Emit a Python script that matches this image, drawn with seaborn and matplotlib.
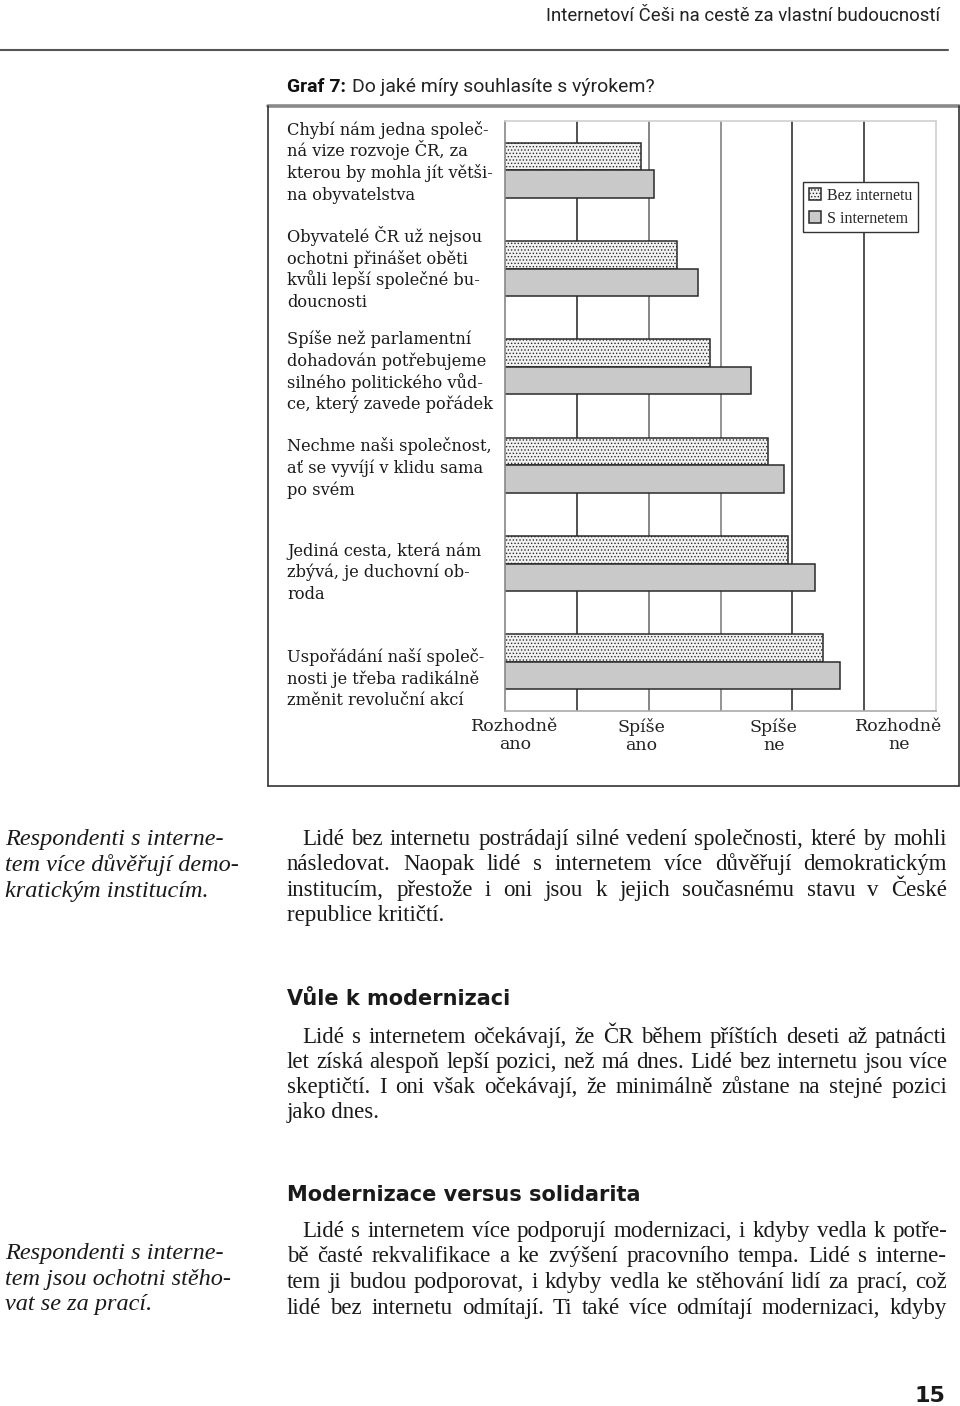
import numpy as np
import pandas as pd
import matplotlib
matplotlib.use("Agg")
import matplotlib.pyplot as plt
import seaborn as sns
from matplotlib.lines import Line2D
from matplotlib import font_manager as fm
from matplotlib.transforms import blended_transform_factory, offset_copy

# ---------------- data ----------------
statements = [
    "Chybí nám jedna společ-\nná vize rozvoje ČR, za\nkterou by mohla jít větši-\nna obyvatelstva",
    "Obyvatelé ČR už nejsou\nochotni přinášet oběti\nkvůli lepší společné bu-\ndoucnosti",
    "Spíše než parlamentní\ndohadován potřebujeme\nsilného politického vůd-\nce, který zavede pořádek",
    "Nechme naši společnost,\nať se vyvíjí v klidu sama\npo svém",
    "Jediná cesta, která nám\nzbývá, je duchovní ob-\nroda",
    "Uspořádání naší společ-\nnosti je třeba radikálně\nzměnit revoluční akcí",
]
bez_internetu = [1.95, 2.20, 2.43, 2.83, 2.97, 3.21]
s_internetem = [2.04, 2.34, 2.71, 2.94, 3.16, 3.33]
groups = ["Bez internetu", "S internetem"]
scale_labels = ["Rozhodně\nano", "Spíše\nano", "Spíše\nne", "Rozhodně\nne"]
scale_label_pos = [1.07, 1.95, 2.87, 3.74]

df = pd.DataFrame({
    "výrok": statements * 2,
    "skupina": [groups[0]] * len(statements) + [groups[1]] * len(statements),
    "hodnota": bez_internetu + s_internetem,
})

# ---------------- fonts ----------------
def has_font(name):
    try:
        fm.findfont(fm.FontProperties(family=name), fallback_to_default=False)
        return True
    except Exception:
        return False

NARROW = "Roboto" if has_font("Roboto") else "DejaVu Sans"
SERIF_CH = "DejaVu Serif"
SERIF_BODY = "Liberation Serif"

sns.set_style("white")
plt.rcParams["font.family"] = ["DejaVu Sans"]
plt.rcParams["hatch.color"] = "#8a8a8a"
plt.rcParams["hatch.linewidth"] = 0.6

W, H = 960, 1406
fig = plt.figure(figsize=(W / 100, H / 100), dpi=100)
renderer = fig.canvas.get_renderer()

def fx(x):
    return x / W

def fy(y):
    return 1 - y / H

def width_of(t):
    return t.get_window_extent(renderer).width

# ---------------- chart ----------------
ax = fig.add_axes([fx(505), fy(711), (936 - 505) / W, (711 - 121) / H])
sns.barplot(data=df, y="výrok", x="hodnota", hue="skupina", hue_order=groups,
            order=statements, orient="h", width=0.56, ax=ax, legend=False,
            palette=["#f2f2f2", "#c9c9c9"], edgecolor="#2a2a2a", linewidth=1.1,
            saturation=1)
for p in ax.containers[0]:
    p.set_hatch(".....")

ax.set_xlim(1, 4)
ax.set_ylim(len(statements) - 0.5, -0.5)
ax.set_xticks(np.arange(1.5, 4.0, 0.5), minor=True)
ax.set_xticks(scale_label_pos)
ax.set_xticklabels(scale_labels, family=SERIF_CH, fontsize=12.5,
                   linespacing=1.05, multialignment="center")
ax.tick_params(axis="x", which="both", length=0, pad=5, colors="#222")
ax.grid(False)
ax.grid(True, which="minor", axis="x", color="#3a3a3a", linewidth=1.1)
ax.set_axisbelow(True)
grid_cols = ["#222", "#666", "#777", "#222", "#222"]
for t, c in zip(ax.xaxis.get_minor_ticks(), grid_cols):
    t.gridline.set_color(c)
ax.set_yticks(range(len(statements)))
ax.set_yticklabels([""] * len(statements))
ax.tick_params(axis="y", length=0)
ax.set_xlabel("")
ax.set_ylabel("")
for side, col in [("left", "#888"), ("bottom", "#aaa"), ("top", "#d0d0d0"), ("right", "#d0d0d0")]:
    ax.spines[side].set_visible(True)
    ax.spines[side].set_color(col)
    ax.spines[side].set_linewidth(1.2)

# statement labels: one text per line at a fixed line pitch
label_dy = [-0.08, 0.01, 0.05, 0.03, 0.09, 0.17]
LINE_PITCH = 21.8  # px
trans = blended_transform_factory(ax.transAxes, ax.transData)
for i, s in enumerate(statements):
    lines = s.split("\n")
    n = len(lines)
    for k, line in enumerate(lines):
        off = -((k - (n - 1) / 2) * LINE_PITCH + 5)
        tr = offset_copy(trans, fig=fig, x=0, y=off, units="dots")
        ax.text((287 - 505) / 431, i + label_dy[i], line, transform=tr, ha="left",
                va="baseline", family=SERIF_CH, fontsize=11.7, color="#1a1a1a")

leg = ax.legend(handles=[ax.containers[0], ax.containers[1]], labels=groups,
                loc="upper left", bbox_to_anchor=((803 - 505) / 431, 1 - (182 - 121) / 590),
                frameon=True, fancybox=False, framealpha=1, edgecolor="#333",
                prop={"family": SERIF_BODY, "size": 11.5}, handlelength=0.8,
                handleheight=0.8, handletextpad=0.35, borderpad=0.35,
                labelspacing=0.45, borderaxespad=0)
leg.get_frame().set_linewidth(1.0)

# ---------------- page frame & rules ----------------
def hline(x0, x1, y, **kw):
    fig.add_artist(Line2D([fx(x0), fx(x1)], [fy(y), fy(y)], **kw))

def vline(x, y0, y1, **kw):
    fig.add_artist(Line2D([fx(x), fx(x)], [fy(y0), fy(y1)], **kw))

hline(0, 948, 50, color="#555", lw=1.5)
hline(268, 959, 106, color="#8a8a8a", lw=2.6)
vline(268, 106, 786, color="#333", lw=1.2)
vline(958.5, 106, 786, color="#333", lw=1.2)
hline(268, 959, 786, color="#333", lw=1.2)

# header, fitted to the width it takes in the page
hdr = fig.text(fx(940), fy(21), "Internetoví Češi na cestě za vlastní budoucností",
               ha="right", va="baseline", family=NARROW, fontsize=15, color="#222")
hdr.set_fontsize(15 * 395 / width_of(hdr))

g_bold = fig.text(fx(287), fy(92), "Graf 7:", ha="left", va="baseline", family=NARROW,
                  fontsize=16, fontweight="bold", color="#111")
g_rest = fig.text(fx(287), fy(92), "Do jaké míry souhlasíte s výrokem?", ha="left",
                  va="baseline", family=NARROW, fontsize=16, color="#222")
total = width_of(g_bold) + width_of(g_rest) + 6
scale = 366 / total
g_bold.set_fontsize(16 * scale)
g_rest.set_fontsize(16 * scale)
g_rest.set_x(fx(287 + width_of(g_bold) + 6))

# ---------------- body text ----------------
body_fp = dict(family=SERIF_BODY, fontsize=16.5, color="#1a1a1a")

def justified(lines, x0, x1, baselines, indent=15, last_left=True):
    for i, (line, yb) in enumerate(zip(lines, baselines)):
        start = x0 + (indent if i == 0 else 0)
        if last_left and i == len(lines) - 1:
            fig.text(fx(start), fy(yb), line, ha="left", va="baseline", **body_fp)
            continue
        words = line.split(" ")
        txts = [fig.text(0, fy(yb), w, ha="left", va="baseline", **body_fp) for w in words]
        widths = [width_of(t) for t in txts]
        gap = (x1 - start - sum(widths)) / max(len(words) - 1, 1)
        x = start
        for t, wd in zip(txts, widths):
            t.set_x(fx(x))
            x += wd + gap

par1 = ["Lidé bez internetu postrádají silné vedení společnosti, které by mohli",
        "následovat. Naopak lidé s internetem více důvěřují demokratickým",
        "institucím, přestože i oni jsou k jejich současnému stavu v České",
        "republice kritičtí."]
justified(par1, 287, 947, [845, 870, 896, 921])

par2 = ["Lidé s internetem očekávají, že ČR během příštích deseti až patnácti",
        "let získá alespoň lepší pozici, než má dnes. Lidé bez internetu jsou více",
        "skeptičtí. I oni však očekávají, že minimálně zůstane na stejné pozici",
        "jako dnes."]
justified(par2, 287, 947, [1043, 1068, 1093, 1118])

par3 = ["Lidé s internetem více podporují modernizaci, i kdyby vedla k potře-",
        "bě časté rekvalifikace a ke zvýšení pracovního tempa. Lidé s interne-",
        "tem ji budou podporovat, i kdyby vedla ke stěhování lidí za prací, což",
        "lidé bez internetu odmítají. Ti také více odmítají modernizaci, kdyby"]
justified(par3, 287, 947, [1237, 1262, 1288, 1314], last_left=False)

fig.text(fx(287), fy(1005), "Vůle k modernizaci", ha="left", va="baseline",
         family="DejaVu Sans", fontsize=15, fontweight="bold", color="#1a1a1a")
fig.text(fx(287), fy(1201), "Modernizace versus solidarita", ha="left", va="baseline",
         family="DejaVu Sans", fontsize=15, fontweight="bold", color="#1a1a1a")

note_fp = dict(family=SERIF_BODY, fontsize=17.5, style="italic", color="#1a1a1a")
for txt, yb in zip(["Respondenti s interne-", "tem více důvěřují demo-", "kratickým institucím."],
                   [845, 871, 897]):
    fig.text(fx(5), fy(yb), txt, ha="left", va="baseline", **note_fp)
for txt, yb in zip(["Respondenti s interne-", "tem jsou ochotni stěho-", "vat se za prací."],
                   [1259, 1285, 1310]):
    fig.text(fx(5), fy(yb), txt, ha="left", va="baseline", **note_fp)

fig.text(fx(945), fy(1402), "15", ha="right", va="baseline", family="DejaVu Sans",
         fontsize=16, fontweight="bold", color="#1a1a1a")

fig.savefig("out.png", dpi=100)
